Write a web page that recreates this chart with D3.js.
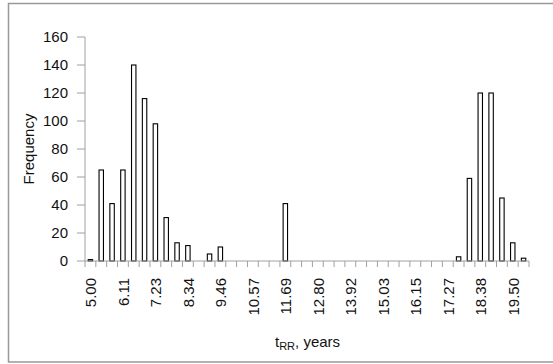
<!DOCTYPE html>
<html><head><meta charset="utf-8">
<script src="https://cdn.jsdelivr.net/npm/d3@7"></script>
<style>body{margin:0;background:#fff}svg{display:block}</style>
</head><body>
<svg id="c" width="553" height="364"></svg>
<script>
const binStarts = d3.range(41); // category index
const frequencies = [1,65,41,65,140,116,98,31,13,11,0,5,10,0,0,0,0,0,41,0,0,0,0,0,0,0,0,0,0,0,0,0,0,0,3,59,120,120,45,13,2];
const tickLabels = ["5.00","6.11","7.23","8.34","9.46","10.57","11.69","12.80","13.92","15.03","16.15","17.27","18.38","19.50"];
const yTicks = [0,20,40,60,80,100,120,140,160];

const svg = d3.select("#c");
const font = "Liberation Sans, Arial, sans-serif";
svg.append("rect").attr("x",8.5).attr("y",3.5).attr("width",560).attr("height",358.5)
  .attr("fill","none").attr("stroke","#999").attr("stroke-width",1.5);

const x = d3.scaleBand().domain(binStarts).range([85,529]).paddingInner(0.5).paddingOuter(0.25);
const y = d3.scaleLinear().domain([0,160]).range([261,37]);
const axisColor = "#a0a0a0";

// y axis
svg.append("line").attr("x1",85).attr("x2",85).attr("y1",y(160)).attr("y2",y(0)).attr("stroke",axisColor);
const yg = svg.append("g");
yTicks.forEach(t=>{
  yg.append("line").attr("x1",77).attr("x2",85).attr("y1",y(t)).attr("y2",y(t)).attr("stroke",axisColor);
  yg.append("text").attr("x",68).attr("y",y(t)).attr("dy","0.36em").attr("text-anchor","end")
    .attr("font-family",font).attr("font-size",15).attr("fill","#111").text(t);
});

// bars
svg.append("g").selectAll("rect").data(frequencies).join("rect")
  .attr("x",(d,i)=>x(i)+0.5).attr("y",d=>y(d)).attr("width",x.bandwidth()-1)
  .attr("height",d=>y(0)-y(d)).attr("fill","#fff").attr("stroke","#000").attr("stroke-width",1.1)
  .attr("display",d=>d>0?null:"none");

// x axis
svg.append("line").attr("x1",85).attr("x2",529).attr("y1",y(0)).attr("y2",y(0)).attr("stroke",axisColor);
const step = x.step();
for(let i=0;i<=41;i++){
  const xx = 85 + i*step;
  svg.append("line").attr("x1",xx).attr("x2",xx).attr("y1",y(0)).attr("y2",y(0)+6).attr("stroke",axisColor);
}
tickLabels.forEach((lab,k)=>{
  const cx = x(k*3)+x.bandwidth()/2 + 1;
  svg.append("text").attr("transform",`translate(${cx+5},278) rotate(-90)`).attr("text-anchor","end")
    .attr("font-family",font).attr("font-size",15).attr("fill","#111").text(lab);
});

// axis titles
svg.append("text").attr("transform","translate(34,149) rotate(-90)").attr("text-anchor","middle")
  .attr("font-family",font).attr("font-size",15).attr("fill","#111").text("Frequency");
const xt = svg.append("text").attr("x",275).attr("y",347).attr("font-family",font).attr("font-size",15).attr("fill","#111");
xt.append("tspan").text("t");
xt.append("tspan").attr("font-size",11).attr("dy",3).text("RR");
xt.append("tspan").attr("dy",-3).text(", years");
</script>
</body></html>
